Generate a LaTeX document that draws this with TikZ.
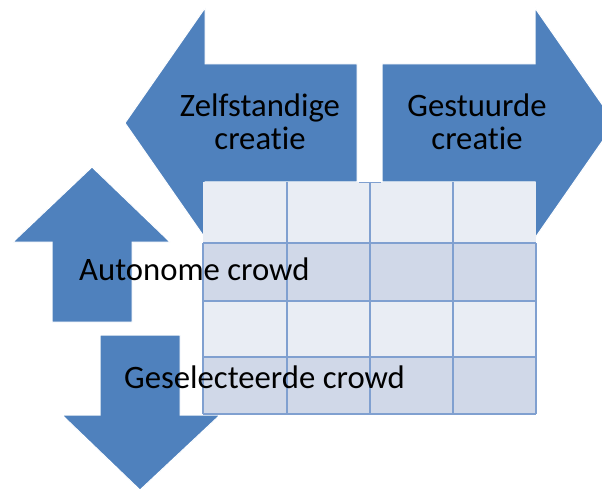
\documentclass[tikz,border=0pt]{standalone}
\usepackage{fontspec}
\setmainfont{Carlito}[Ligatures=NoCommon]
\usepackage{tikz}
\usetikzlibrary{positioning}
\usepackage{xcolor}
\definecolor{pijlblauw}{RGB}{79,129,189}
\definecolor{rijlicht}{RGB}{233,237,244}
\definecolor{rijdonker}{RGB}{208,216,232}
\definecolor{lijnblauw}{RGB}{128,160,208}

\begin{document}
\begin{tikzpicture}[x=1pt,y=-1pt,
  pijl/.style={fill=pijlblauw,draw=white,line width=1pt,line join=miter},
  tekst/.style={font=\fontsize{32.7}{33}\selectfont,inner sep=0pt,text=black,align=center},
  raster/.style={draw=lijnblauw,line width=1.3pt}]
\useasboundingbox (0,0) rectangle (602,489);
\clip (0,0) rectangle (602,489);

% pijlen omhoog en omlaag
\filldraw[pijl] (92,167)--(170,242)--(132,242)--(132,322)--(52,322)--(52,242)--(13,242)--cycle;
\filldraw[pijl] (140,490)--(220,415)--(180,415)--(180,335)--(100,335)--(100,415)--(62,415)--cycle;

% pijlen links en rechts
\filldraw[pijl] (125,123)--(205,8)--(205,64)--(357,64)--(357,182)--(205,182)--(205,238)--cycle;
\filldraw[pijl] (615,123)--(535,8)--(535,64)--(382,64)--(382,182)--(535,182)--(535,238)--cycle;

% tabel
\fill[rijlicht] (203,182) rectangle (536,243);
\fill[rijdonker] (203,243) rectangle (536,301);
\fill[rijlicht] (203,301) rectangle (536,357);
\fill[rijdonker] (203,357) rectangle (536,414);

\draw[raster] (203,243)--(536,243);
\draw[raster] (203,301)--(536,301);
\draw[raster] (203,357)--(536,357);
\draw[raster] (203,414)--(536,414);
\draw[raster] (203,243)--(203,414);
\draw[raster] (536,243)--(536,414);
\draw[raster] (287,182)--(287,414);
\draw[raster] (370,182)--(370,414);
\draw[raster] (453,182)--(453,414);
\draw[raster,line width=1pt] (359,183)--(381,183);

% teksten
\node[tekst,anchor=base] (zelf) at (260,150) {Zelfstandige\\creatie};
\node[tekst,anchor=base] (gestuurd) at (477,150) {Gestuurde\\creatie};
\node[tekst,anchor=base west] (autonoom) at (79,280) {Autonome crowd};
\node[tekst,anchor=base west] (geselecteerd) at (124,388) {Geselecteerde crowd};

\end{tikzpicture}
\end{document}
